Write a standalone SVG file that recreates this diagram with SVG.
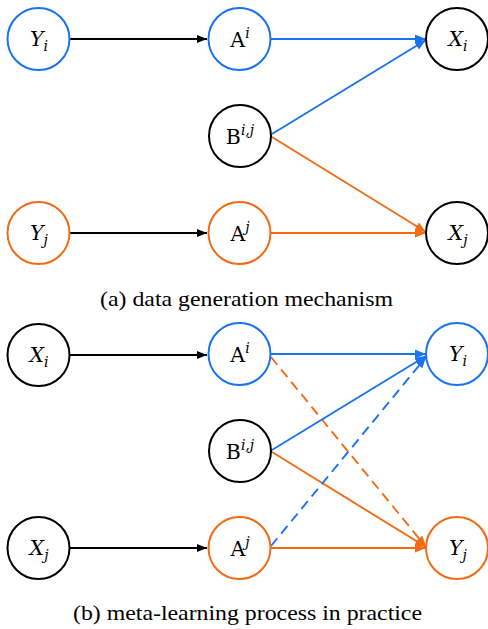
<svg xmlns="http://www.w3.org/2000/svg" width="488" height="629" viewBox="0 0 488 629">
  <style>
    .node circle { fill: #ffffff; stroke-width: 2; }
    .blk circle { stroke: #000000; }
    .blu circle { stroke: #1a72f0; }
    .org circle { stroke: #f26b14; }
    text { font-family: 'DejaVu Serif', serif; fill: #000000; }
    .lbl { font-size: 20.5px; text-anchor: middle; }
    .it { font-style: italic; }
    .sm { font-size: 14px; font-style: italic; }
    .cap { font-family: 'Liberation Serif', 'Times New Roman', serif; font-size: 21px; text-anchor: middle; }
    .e { fill: none; stroke-width: 1.9; }
    .k { stroke: #000000; }
    .b { stroke: #1a72f0; }
    .o { stroke: #f26b14; }
    .d { stroke-dasharray: 10 6; }
  </style>
  <defs>
    <marker id="ak" viewBox="0 0 10 8" refX="10" refY="4" markerWidth="10" markerHeight="8" markerUnits="userSpaceOnUse" orient="auto">
      <path d="M0,0 L10,4 L0,8 z" fill="#000000"/>
    </marker>
    <marker id="ab" viewBox="0 0 10 8" refX="10" refY="4" markerWidth="11" markerHeight="9" markerUnits="userSpaceOnUse" orient="auto">
      <path d="M0,0 L10,4 L0,8 z" fill="#1a72f0"/>
    </marker>
    <marker id="ao" viewBox="0 0 10 8" refX="10" refY="4" markerWidth="11" markerHeight="9" markerUnits="userSpaceOnUse" orient="auto">
      <path d="M0,0 L10,4 L0,8 z" fill="#f26b14"/>
    </marker>
  </defs>

  <!-- connectors -->
  <g id="edges">
    <!-- (a) data generation -->
    <line class="e k" x1="70" y1="39" x2="207" y2="39" marker-end="url(#ak)"/>
    <line class="e b" x1="271" y1="39" x2="426" y2="39" marker-end="url(#ab)"/>
    <line class="e b" x1="272" y1="134" x2="426" y2="40" marker-end="url(#ab)"/>
    <line class="e o" x1="272" y1="137" x2="426" y2="232" marker-end="url(#ao)"/>
    <line class="e k" x1="70" y1="233" x2="207" y2="233" marker-end="url(#ak)"/>
    <line class="e o" x1="271" y1="233" x2="426" y2="233" marker-end="url(#ao)"/>
    <!-- (b) meta-learning -->
    <line class="e k" x1="70" y1="355" x2="207" y2="355" marker-end="url(#ak)"/>
    <line class="e b" x1="271" y1="354" x2="426" y2="354" marker-end="url(#ab)"/>
    <line class="e o d" x1="271" y1="357" x2="426" y2="547" marker-end="url(#ao)"/>
    <line class="e b" x1="272" y1="450" x2="426" y2="356" marker-end="url(#ab)"/>
    <line class="e o" x1="272" y1="452" x2="426" y2="547" marker-end="url(#ao)"/>
    <line class="e b d" x1="271" y1="546" x2="426" y2="357" marker-end="url(#ab)"/>
    <line class="e k" x1="70" y1="548" x2="207" y2="548" marker-end="url(#ak)"/>
    <line class="e o" x1="271" y1="548" x2="426" y2="548" marker-end="url(#ao)"/>
  </g>

  <!-- (a) nodes -->
  <g id="a-Yi" class="node blu"><circle cx="38.5" cy="39" r="31"/>
    <text class="lbl" x="39" y="46"><tspan class="it">Y</tspan><tspan class="sm" dy="5">i</tspan></text></g>
  <g id="a-Ai" class="node blu"><circle cx="239.5" cy="39" r="31"/>
    <text class="lbl" x="240" y="47">A<tspan class="sm" dy="-9">i</tspan></text></g>
  <g id="a-Xi" class="node blk"><circle cx="457" cy="39" r="31"/>
    <text class="lbl" x="458" y="46"><tspan class="it">X</tspan><tspan class="sm" dy="5">i</tspan></text></g>
  <g id="a-Bij" class="node blk"><circle cx="240" cy="136" r="31"/>
    <text class="lbl" x="240" y="144">B<tspan class="sm" dy="-9">i,j</tspan></text></g>
  <g id="a-Yj" class="node org"><circle cx="38.5" cy="233" r="31"/>
    <text class="lbl" x="39" y="240"><tspan class="it">Y</tspan><tspan class="sm" dy="5">j</tspan></text></g>
  <g id="a-Aj" class="node org"><circle cx="239.5" cy="233" r="31"/>
    <text class="lbl" x="240" y="241">A<tspan class="sm" dy="-9">j</tspan></text></g>
  <g id="a-Xj" class="node blk"><circle cx="457" cy="233" r="31"/>
    <text class="lbl" x="458" y="240"><tspan class="it">X</tspan><tspan class="sm" dy="5">j</tspan></text></g>

  <text class="cap" x="246.5" y="306" textLength="293" lengthAdjust="spacingAndGlyphs">(a) data generation mechanism</text>

  <!-- (b) nodes -->
  <g id="b-Xi" class="node blk"><circle cx="38.5" cy="355" r="31"/>
    <text class="lbl" x="39" y="362"><tspan class="it">X</tspan><tspan class="sm" dy="5">i</tspan></text></g>
  <g id="b-Ai" class="node blu"><circle cx="239.5" cy="354" r="31"/>
    <text class="lbl" x="240" y="362">A<tspan class="sm" dy="-9">i</tspan></text></g>
  <g id="b-Yi" class="node blu"><circle cx="457" cy="354" r="31"/>
    <text class="lbl" x="458" y="361"><tspan class="it">Y</tspan><tspan class="sm" dy="5">i</tspan></text></g>
  <g id="b-Bij" class="node blk"><circle cx="240" cy="451" r="31"/>
    <text class="lbl" x="240" y="459">B<tspan class="sm" dy="-9">i,j</tspan></text></g>
  <g id="b-Xj" class="node blk"><circle cx="38.5" cy="548" r="31"/>
    <text class="lbl" x="39" y="555"><tspan class="it">X</tspan><tspan class="sm" dy="5">j</tspan></text></g>
  <g id="b-Aj" class="node org"><circle cx="239.5" cy="548" r="31"/>
    <text class="lbl" x="240" y="556">A<tspan class="sm" dy="-9">j</tspan></text></g>
  <g id="b-Yj" class="node org"><circle cx="457" cy="548" r="31"/>
    <text class="lbl" x="458" y="555"><tspan class="it">Y</tspan><tspan class="sm" dy="5">j</tspan></text></g>

  <text class="cap" x="247.5" y="620" textLength="349" lengthAdjust="spacingAndGlyphs">(b) meta-learning process in practice</text>
</svg>
